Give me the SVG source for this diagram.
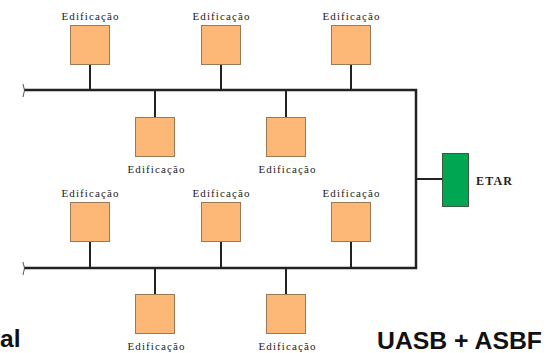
<svg xmlns="http://www.w3.org/2000/svg" width="556" height="353" viewBox="0 0 556 353">
  <style>
    .bldg { fill: #FDB877; stroke: #9A7A55; stroke-width: 1; }
    .lbl { font-family: "Liberation Serif", "Times New Roman", serif; font-size: 11px; fill: #222; text-anchor: middle; }
    .pipe { stroke: #222; stroke-width: 2; fill: none; }
    .main { stroke: #222; stroke-width: 2.5; fill: none; }
    .brk { stroke: #555; stroke-width: 1; fill: none; }
    .big { font-family: "Liberation Sans", Arial, sans-serif; font-size: 24.5px; font-weight: bold; fill: #111; }
  </style>
  <rect width="556" height="353" fill="#fff"/>

  <!-- connectors: sewer mains and house connections -->
  <g id="connectors">
    <path class="main" d="M24 90 H416 V268 H24"/>
    <path class="brk" d="M23 84 Q26 90 23 97"/>
    <path class="brk" d="M23 262 Q26 268 23 275"/>
    <path class="pipe" d="M416 179 H442"/>
    <!-- upper network -->
    <path class="pipe" d="M90 64 V90 M221 64 V90 M351 64 V90 M155 90 V117 M286 90 V117"/>
    <!-- lower network -->
    <path class="pipe" d="M90 241 V268 M221 241 V268 M351 241 V268 M155 268 V294 M286 268 V294"/>
  </g>

  <!-- upper network buildings -->
  <g id="b1"><rect class="bldg" x="70.5" y="25.5" width="39" height="39"/><text class="lbl" x="90" y="20" textLength="57" lengthAdjust="spacing">Edificação</text></g>
  <g id="b2"><rect class="bldg" x="201.5" y="25.5" width="39" height="39"/><text class="lbl" x="221" y="20" textLength="57" lengthAdjust="spacing">Edificação</text></g>
  <g id="b3"><rect class="bldg" x="331.5" y="25.5" width="39" height="39"/><text class="lbl" x="351" y="20" textLength="57" lengthAdjust="spacing">Edificação</text></g>
  <g id="b4"><rect class="bldg" x="135.5" y="117.5" width="39" height="39"/><text class="lbl" x="156" y="173" textLength="57" lengthAdjust="spacing">Edificação</text></g>
  <g id="b5"><rect class="bldg" x="266.5" y="117.5" width="39" height="39"/><text class="lbl" x="287" y="173" textLength="57" lengthAdjust="spacing">Edificação</text></g>

  <!-- lower network buildings -->
  <g id="b6"><rect class="bldg" x="70.5" y="202.5" width="39" height="39"/><text class="lbl" x="90" y="197" textLength="57" lengthAdjust="spacing">Edificação</text></g>
  <g id="b7"><rect class="bldg" x="201.5" y="202.5" width="39" height="39"/><text class="lbl" x="221" y="197" textLength="57" lengthAdjust="spacing">Edificação</text></g>
  <g id="b8"><rect class="bldg" x="331.5" y="202.5" width="39" height="39"/><text class="lbl" x="351" y="197" textLength="57" lengthAdjust="spacing">Edificação</text></g>
  <g id="b9"><rect class="bldg" x="135.5" y="294.5" width="39" height="39"/><text class="lbl" x="156" y="350" textLength="57" lengthAdjust="spacing">Edificação</text></g>
  <g id="b10"><rect class="bldg" x="266.5" y="294.5" width="39" height="39"/><text class="lbl" x="287" y="350" textLength="57" lengthAdjust="spacing">Edificação</text></g>

  <!-- treatment plant -->
  <g id="etar">
    <rect x="442.5" y="153.5" width="26" height="53" fill="#00A651" stroke="#3a5a40" stroke-width="1"/>
    <text x="476" y="185" font-family="Liberation Serif, 'Times New Roman', serif" font-size="12" font-weight="bold" fill="#222" textLength="36" lengthAdjust="spacing">ETAR</text>
  </g>

  <text class="big" x="0" y="347">al</text>
  <text class="big" x="377" y="349" textLength="165" lengthAdjust="spacingAndGlyphs">UASB + ASBF</text>
</svg>
